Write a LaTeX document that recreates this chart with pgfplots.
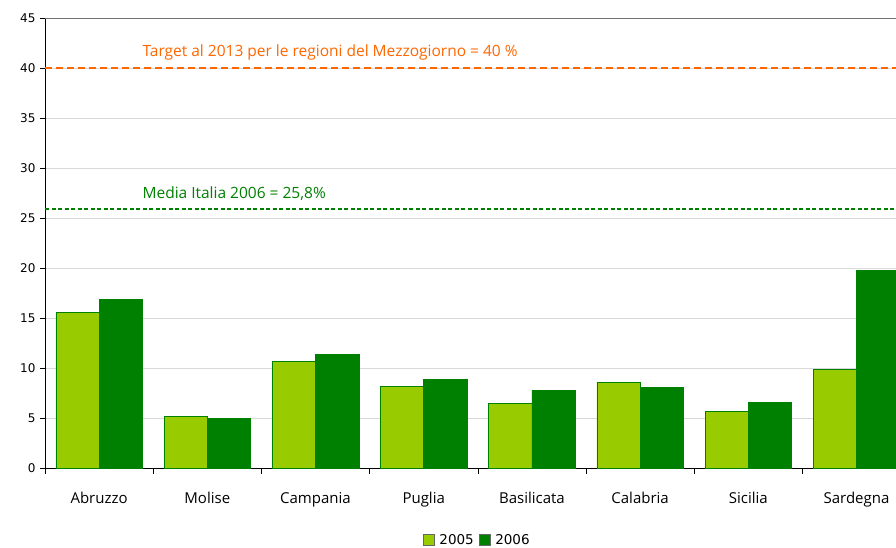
\documentclass[border=0pt]{standalone}
\usepackage{fontspec}
\setmainfont{DejaVu Sans}
\newfontfamily\comic{Open Sans}
\usepackage{pgfplots}
\pgfplotsset{compat=1.18}
\definecolor{c05}{HTML}{99CC00}
\definecolor{c06}{HTML}{008000}
\definecolor{corange}{HTML}{FF6600}
\definecolor{gridc}{HTML}{D9D9D9}
\begin{document}
\begin{tikzpicture}
\useasboundingbox (0,0) rectangle (896pt,547pt);
\begin{axis}[
  at={(45pt,79pt)}, anchor=south west,
  scale only axis, width=851pt, height=450pt,
  xmin=-0.5, xmax=7.365, ymin=0, ymax=45,
  axis x line*=bottom, axis y line*=left,
  axis line style={black, line width=0.8pt},
  ytick={0,5,...,45},
  ymajorgrids, grid style={gridc, line width=0.8pt},
  ytick style={black, line width=0.6pt}, tick align=outside,
  major tick length=5pt,
  yticklabel style={font=\fontsize{12}{12}\selectfont, xshift=-1pt},
  /pgf/number format/assume math mode=true,
  xtick={0,...,7},
  xticklabels={Abruzzo,Molise,Campania,Puglia,Basilicata,Calabria,Sicilia,Sardegna},
  x tick label style={font=\comic\fontsize{15}{15}\selectfont, yshift=-16pt},
  xtick style={draw=none},
  extra x ticks={-0.5,0.5,1.5,2.5,3.5,4.5,5.5,6.5},
  extra x tick labels={},
  extra x tick style={xtick style={draw=black, line width=0.6pt}, major tick length=6pt, grid=none},
  ybar, bar width=0.4,
  legend style={at={(0.508,-0.16)}, anchor=center, draw=none, font=\fontsize{13.5}{13.5}\selectfont, legend columns=2, column sep=3pt},
  legend image code/.code={\draw[#1, draw=black!60] (0pt,-5pt) rectangle (11pt,6pt);},
  clip=true,
]
\addplot[bar shift=-0.2, fill=c05, draw=c06, line width=0.5pt] coordinates {(0,15.6) (1,5.2) (2,10.7) (3,8.2) (4,6.5) (5,8.6) (6,5.7) (7,9.9)};
\addplot[bar shift=0.2, fill=c06, draw=c06, line width=0.5pt] coordinates {(0,16.9) (1,5.0) (2,11.4) (3,8.9) (4,7.8) (5,8.1) (6,6.6) (7,19.8)};
\legend{2005,2006}
\draw[black!55, line width=0.8pt] (axis cs:-0.5,45) -- (axis cs:7.365,45);
\addplot[sharp plot, forget plot, color=corange, line width=1.5pt, dash pattern=on 7pt off 4pt] coordinates {(-0.5,40) (7.365,40)};
\addplot[sharp plot, forget plot, color=c06, line width=1.6pt, dash pattern=on 4pt off 2.5pt] coordinates {(-0.5,25.9) (7.365,25.9)};
\node[anchor=west, text=corange, font=\comic\fontsize{15.5}{15.5}\selectfont, inner sep=0pt] at (axis cs:0.4,41.6) {Target al 2013 per le regioni del Mezzogiorno = 40 \%};
\node[anchor=west, text=c06, font=\comic\fontsize{15.5}{15.5}\selectfont, inner sep=0pt] at (axis cs:0.4,27.4) {Media Italia 2006 = 25,8\%};
\end{axis}
\end{tikzpicture}
\end{document}
